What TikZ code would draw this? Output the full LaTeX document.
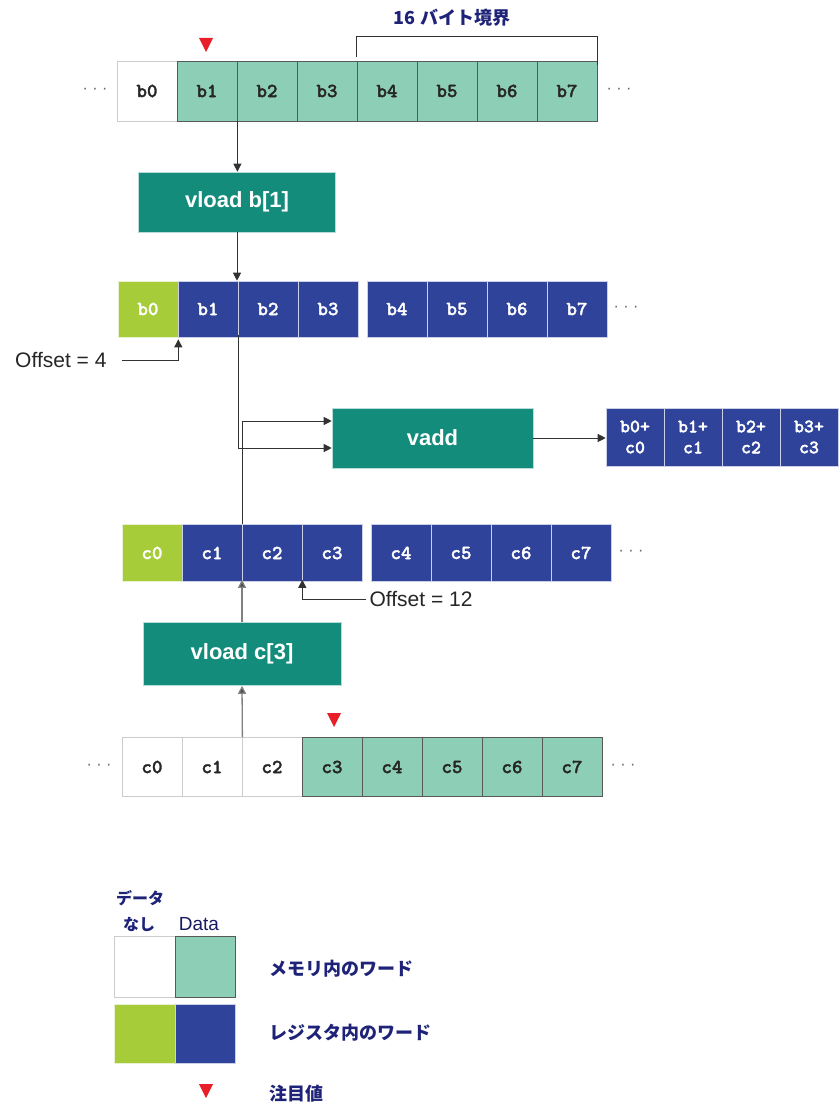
\documentclass[tikz,border=0pt]{standalone}
\usepackage{fontspec}
\setmainfont{Liberation Sans}
\newfontfamily\jpfont{Noto Sans CJK JP}
\newfontfamily\cellfont{lmmonolt10-bold}[Extension=.otf,FakeBold=1.6]
\usetikzlibrary{arrows.meta}
\definecolor{memfill}{RGB}{141,207,182}
\definecolor{regblue}{RGB}{46,67,153}
\definecolor{reggreen}{RGB}{166,204,58}
\definecolor{opteal}{RGB}{19,140,124}
\definecolor{navy}{RGB}{30,35,120}
\definecolor{hotred}{RGB}{232,30,40}
\definecolor{lineg}{RGB}{50,50,50}
\begin{document}
\begin{tikzpicture}[x=1pt,y=-1pt,
  cell/.style={minimum width=60pt,minimum height=60pt,inner sep=0pt,anchor=center,
    font=\cellfont\fontsize{20}{20}\selectfont},
  memdata/.style={cell,fill=memfill,draw=black!65,line width=0.8pt,text=black!85},
  memnone/.style={cell,fill=white,draw=black!20,line width=0.8pt,text=black!85},
  regdata/.style={cell,fill=regblue,draw=white!75!regblue,line width=0.6pt,text=white},
  regnone/.style={cell,fill=reggreen,draw=white!75!reggreen,line width=0.6pt,text=white},
  opbox/.style={fill=opteal,draw=white!70!opteal,line width=0.6pt,text=white,
    font=\bfseries\fontsize{22}{22}\selectfont,inner sep=0pt},
  conn/.style={draw=lineg,line width=1pt,-{Triangle[length=8pt,width=8pt]}},
  connlight/.style={draw=black!50,line width=1.3pt,-{Triangle[length=8pt,width=8pt,fill=black!70]}},
  dots/.style={font=\fontsize{16}{16}\selectfont,text=black!60},
  jplabel/.style={font=\jpfont\bfseries\fontsize{18}{18}\selectfont,text=navy,anchor=west},
  offs/.style={font=\fontsize{21}{21}\selectfont,text=black!85},
  pointer/.style={fill=hotred}]
\useasboundingbox (0,0) rectangle (839,1105);

% memory row b
\node[memnone] (mb0) at (147,91) {b0};
\foreach \i in {1,...,7}{
  \node[memdata] (mb\i) at ({147+60*\i},91) {b\i};
}
\node[dots] (mbl) at (95,91) {· · ·};
\node[dots] (mbr) at (619,91) {· · ·};
\fill[pointer] (199,38) -- (213,38) -- (206,52) -- cycle;
\draw[lineg,line width=1pt] (mb4.north west) ++(0,-4) -- ++(0,-20) -| ([yshift=-4pt]mb7.north east);
\node[font=\jpfont\bfseries\fontsize{18}{18}\selectfont,text=navy] (bnd) at (452,18) {16 バイト境界};

% vload b[1]
\node[opbox,minimum width=197pt,minimum height=60pt] (ldb) at (237,202) {vload b[1]};
\draw[conn] (mb1.south east) -- (mb1.south east |- ldb.north);

% register row b
\node[regnone,minimum height=56pt] (rb0) at (148,309) {b0};
\foreach \i in {1,2,3}{
  \node[regdata,minimum height=56pt] (rb\i) at ({148+60*\i},309) {b\i};
}
\foreach \i in {4,...,7}{
  \node[regdata,minimum height=56pt] (rb\i) at ({157+60*\i},309) {b\i};
}
\node[dots] (rbr) at (626,309) {· · ·};
\draw[conn] (ldb.south) -- (ldb.south |- rb1.north);

\node[offs,anchor=east] (off4) at (110,360) {Offset = 4};
\draw[conn] (off4.east) ++(12,0) -| ([yshift=-2pt]rb0.south east);

% vadd
\node[opbox,minimum width=201pt,minimum height=60pt] (vadd) at (432.5,438) {vadd};
\draw[conn] ([yshift=2pt]rb1.south east) |- ([yshift=-10pt]vadd.west);

% result
\foreach \i in {0,...,3}{
  \node[regdata,minimum width=58pt,minimum height=58pt,align=center,
    font=\cellfont\fontsize{19}{21}\selectfont] (res\i) at ({635+58*\i},437) {b\i+\\c\i};
}
\draw[conn] (vadd.east) -- (vadd.east -| res0.west);

% register row c
\node[regnone,minimum height=57pt] (rc0) at (152,553) {c0};
\foreach \i in {1,2,3}{
  \node[regdata,minimum height=57pt] (rc\i) at ({152+60*\i},553) {c\i};
}
\foreach \i in {4,...,7}{
  \node[regdata,minimum height=57pt] (rc\i) at ({161+60*\i},553) {c\i};
}
\node[dots] (rcr) at (631,553) {· · ·};
\draw[conn] (rc1.north east) |- ([yshift=17pt]vadd.west);

\node[offs,anchor=west] (off12) at (366,599) {Offset = 12};
\draw[conn] (off12.west) -| ([yshift=2pt]rc2.south east);

% vload c[3]
\node[opbox,minimum width=198pt,minimum height=63pt] (ldc) at (242,654) {vload c[3]};
\draw[connlight] (ldc.north) -- ([yshift=2pt]ldc.north |- rc1.south);

% memory row c
\foreach \i in {0,1,2}{
  \node[memnone,minimum height=59pt] (mc\i) at ({152+60*\i},767) {c\i};
}
\foreach \i in {3,...,7}{
  \node[memdata,minimum height=59pt] (mc\i) at ({152+60*\i},767) {c\i};
}
\node[dots] (mcl) at (99,767) {· · ·};
\node[dots] (mcr) at (623,767) {· · ·};
\fill[pointer] (327,713) -- (341,713) -- (334,727) -- cycle;
\draw[connlight] (mc1.north east) -- (ldc.south);

% legend
\node[font=\jpfont\bfseries\fontsize{16}{16}\selectfont,text=navy] (lgnd1) at (140,898) {データ};
\node[font=\jpfont\bfseries\fontsize{16}{16}\selectfont,text=navy] (lgnd2) at (139,924) {なし};
\node[font=\fontsize{19}{19}\selectfont,text=navy!80!black] (lgdata) at (199,924) {Data};
\node[memnone,minimum width=61pt,minimum height=61pt] (lgw) at (144.5,966.5) {};
\node[memdata,minimum width=60pt,minimum height=61pt] (lgm) at (205,966.5) {};
\node[regnone,minimum width=61pt,minimum height=59pt] (lgg) at (144.5,1033.5) {};
\node[regdata,minimum width=60pt,minimum height=59pt] (lgb) at (205,1033.5) {};
\node[jplabel] (lgt1) at (266,969) {メモリ内のワード};
\node[jplabel] (lgt2) at (266,1033) {レジスタ内のワード};
\fill[pointer] (199,1084) -- (213,1084) -- (206,1098) -- cycle;
\node[jplabel] (lgt3) at (266,1094) {注目値};
\end{tikzpicture}
\end{document}
